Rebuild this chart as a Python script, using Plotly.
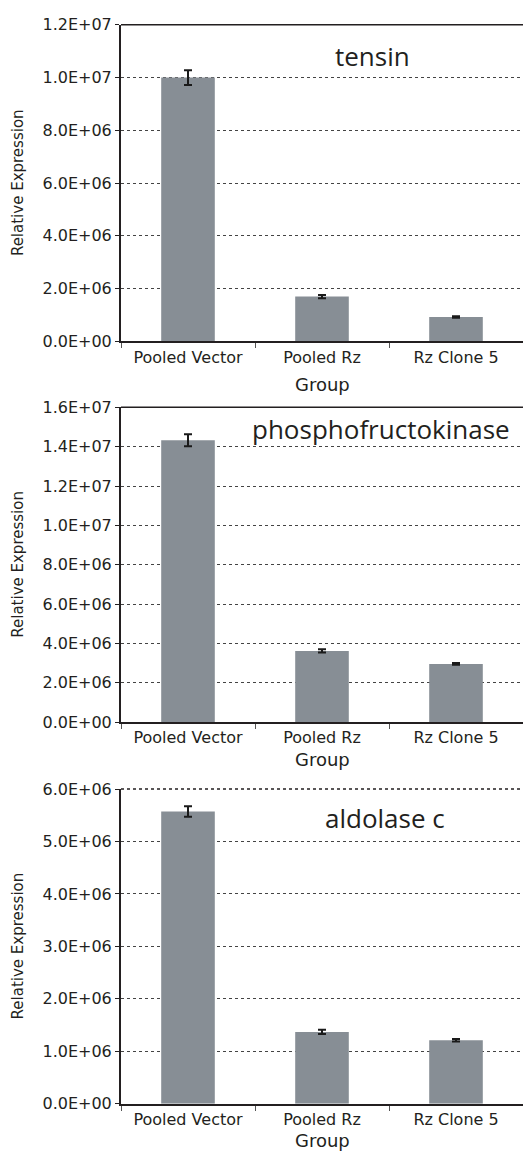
import plotly.graph_objects as go

categories = ["Pooled Vector", "Pooled Rz", "Rz Clone 5"]

tensin_values = [1.00e7, 1.70e6, 9.3e5]
tensin_errors = [2.8e5, 6e4, 3e4]
pfk_values = [1.433e7, 3.62e6, 2.96e6]
pfk_errors = [3.0e5, 8e4, 4e4]
aldolase_values = [5.57e6, 1.37e6, 1.21e6]
aldolase_errors = [1.0e5, 4e4, 2.5e4]

panel_titles = ["tensin", "phosphofructokinase", "aldolase c"]

tensin_ticks = [0, 2e6, 4e6, 6e6, 8e6, 1e7, 1.2e7]
tensin_ticktext = ["0.0E+00", "2.0E+06", "4.0E+06", "6.0E+06", "8.0E+06", "1.0E+07", "1.2E+07"]
pfk_ticks = [0, 2e6, 4e6, 6e6, 8e6, 1e7, 1.2e7, 1.4e7, 1.6e7]
pfk_ticktext = ["0.0E+00", "2.0E+06", "4.0E+06", "6.0E+06", "8.0E+06", "1.0E+07", "1.2E+07", "1.4E+07", "1.6E+07"]
aldolase_ticks = [0, 1e6, 2e6, 3e6, 4e6, 5e6, 6e6]
aldolase_ticktext = ["0.0E+00", "1.0E+06", "2.0E+06", "3.0E+06", "4.0E+06", "5.0E+06", "6.0E+06"]

W, H = 523, 1161
BAR = "#878e95"
INK = "#231f20"
TICKFONT = dict(family="DejaVu Sans", size=16, color=INK)

panels = [
    dict(vals=tensin_values, errs=tensin_errors, ticks=tensin_ticks, tt=tensin_ticktext,
         top=16, bottom=338, title_xy=(372, 48), group_y=382, toplinedash="solid"),
    dict(vals=pfk_values, errs=pfk_errors, ticks=pfk_ticks, tt=pfk_ticktext,
         top=405, bottom=725, title_xy=(381, 427), group_y=763, toplinedash="solid"),
    dict(vals=aldolase_values, errs=aldolase_errors, ticks=aldolase_ticks, tt=aldolase_ticktext,
         top=793, bottom=1113, title_xy=(385, 822), group_y=1150, toplinedash="dot"),
]

fig = go.Figure()
left = 121
annotations = []
shapes = []
for i, p in enumerate(panels):
    n = "" if i == 0 else str(i + 1)
    fig.add_trace(go.Bar(
        x=categories, y=p["vals"], xaxis="x" + n, yaxis="y" + n,
        marker=dict(color=BAR, line=dict(width=0)),
        error_y=dict(type="data", array=p["errs"], color="#1a1a1a", thickness=2, width=4),
        showlegend=False,
    ))
    ydom = [1 - p["bottom"] / H, 1 - p["top"] / H]
    fig.update_layout(**{
        "xaxis" + n: dict(domain=[left / W, 1.0], anchor="y" + n, showline=True, linecolor=INK,
                          linewidth=2, ticks="outside", tickson="boundaries", ticklen=5,
                          tickcolor="#555", tickwidth=1, tickfont=dict(family="DejaVu Sans", size=16, color=INK),
                          showgrid=False, fixedrange=True),
        "yaxis" + n: dict(domain=ydom, anchor="x" + n, range=[0, p["ticks"][-1]],
                          tickvals=p["ticks"], ticktext=p["tt"], showline=True, linecolor=INK,
                          linewidth=2, ticks="outside", ticklen=4, tickcolor=INK, tickwidth=1,
                          tickfont=TICKFONT, showgrid=True, gridcolor="#444", griddash="dot",
                          gridwidth=1, zeroline=False, fixedrange=True),
    })
    shapes.append(dict(type="line", xref="x" + n + " domain", yref="y" + n + " domain",
                       x0=0, x1=1, y0=1, y1=1,
                       line=dict(color=INK, width=1.5, dash=p["toplinedash"])))
    annotations.append(dict(text=panel_titles[i], x=p["title_xy"][0] / W, y=1 - p["title_xy"][1] / H,
                            xref="paper", yref="paper", showarrow=False, xanchor="center", yanchor="middle",
                            font=dict(family="Open Sans", size=26, color=INK)))
    annotations.append(dict(text="Group", x=(left + W) / 2 / W, y=1 - p["group_y"] / H,
                            xref="paper", yref="paper", showarrow=False, xanchor="center", yanchor="middle",
                            font=dict(family="DejaVu Sans", size=18, color=INK)))
    annotations.append(dict(text="Relative Expression", x=18 / W, y=1 - (p["top"] + p["bottom"]) / 2 / H,
                            xref="paper", yref="paper", showarrow=False, textangle=-90,
                            xanchor="center", yanchor="middle",
                            font=dict(family="DejaVu Sans", size=15, color=INK)))

fig.update_layout(width=W, height=H, margin=dict(l=0, r=0, t=0, b=0),
                  paper_bgcolor="white", plot_bgcolor="white", bargap=0.6,
                  annotations=annotations, shapes=shapes)
fig.write_html("out.html", config=dict(displayModeBar=False))
